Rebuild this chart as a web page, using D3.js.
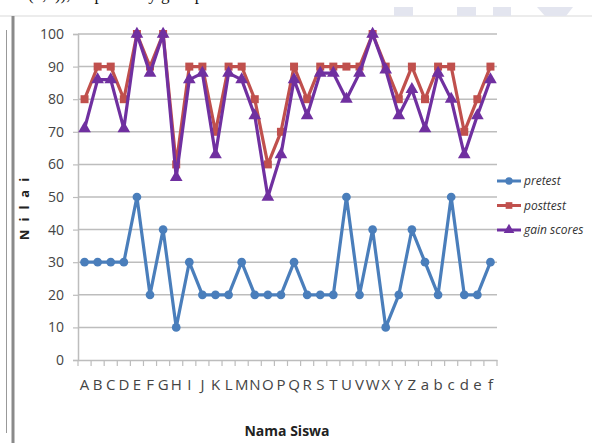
<!DOCTYPE html>
<html>
<head>
<meta charset="utf-8">
<script src="https://cdn.jsdelivr.net/npm/d3@7"></script>
<style>
  body { margin: 0; background: #fff; }
  svg { display: block; }
</style>
</head>
<body>
<div id="chart"></div>
<script>
// donnees
var siswa = ["A","B","C","D","E","F","G","H","I","J","K","L","M","N","O","P","Q","R","S","T","U","V","W","X","Y","Z","a","b","c","d","e","f"];
var pretest = [30,30,30,30,50,20,40,10,30,20,20,20,30,20,20,20,30,20,20,20,50,20,40,10,20,40,30,20,50,20,20,30];
var posttest = [80,90,90,80,100,90,100,60,90,90,70,90,90,80,60,70,90,80,90,90,90,90,100,90,80,90,80,90,90,70,80,90];
var gainScores = [71,86,86,71,100,88,100,56,86,88,63,88,86,75,50,63,86,75,88,88,80,88,100,89,75,83,71,88,80,63,75,86];
var yTicks = [0,10,20,30,40,50,60,70,80,90,100];
var seriesNames = ["pretest", "posttest", "gain scores"];

var width = 592, height = 443;
var svg = d3.select("#chart").append("svg")
  .attr("width", width)
  .attr("height", height);

var font = "'Liberation Sans Narrow', 'Open Sans', sans-serif";

// bout de texte coupe en haut + cadre de la page
svg.append("text")
  .attr("x", 28).attr("y", 0)
  .attr("font-family", "'Liberation Serif', serif")
  .attr("font-size", 17)
  .attr("fill", "#111")
  .text("(1,2)), respectively gain p");

svg.append("line")
  .attr("x1", 0).attr("x2", width).attr("y1", 16).attr("y2", 16)
  .attr("stroke", "#e6e6e6").attr("stroke-width", 1.5);

[[394, 413], [457, 476], [493, 511]].forEach(function(b) {
  svg.append("rect").attr("x", b[0]).attr("y", 7).attr("width", b[1] - b[0]).attr("height", 9).attr("fill", "#e3e5ef");
});
svg.append("path").attr("d", "M537,7L573,7L566,16L545,16Z").attr("fill", "#e3e5ef");

svg.append("line").attr("x1", 13).attr("x2", 13).attr("y1", 16).attr("y2", height)
  .attr("stroke", "#8a8a8a").attr("stroke-width", 3);
svg.append("line").attr("x1", 6.5).attr("x2", 6.5).attr("y1", 30).attr("y2", 433)
  .attr("stroke", "#999").attr("stroke-width", 1);

var margin = {left: 78, right: 497, top: 34, bottom: 360};

var x = d3.scaleBand().domain(siswa).range([margin.left, margin.right]);
var y = d3.scaleLinear().domain([0, 100]).range([margin.bottom, margin.top]);

// grille
svg.append("g").selectAll("line")
  .data(yTicks.slice(1))
  .enter().append("line")
  .attr("x1", margin.left).attr("x2", margin.right)
  .attr("y1", function(d) { return y(d); })
  .attr("y2", function(d) { return y(d); })
  .attr("stroke", "#bdbdbd").attr("stroke-width", 1.5);

// axe y
var yAxis = svg.append("g")
  .attr("transform", "translate(" + margin.left + ",0)")
  .call(d3.axisLeft(y).tickValues(yTicks).tickSize(5).tickPadding(9));
yAxis.select(".domain").attr("stroke", "#bdbdbd").attr("stroke-width", 1.5);
yAxis.selectAll(".tick line").attr("stroke", "#bdbdbd").attr("stroke-width", 1.2);
yAxis.selectAll("text")
  .attr("font-family", font).attr("font-size", 14).attr("fill", "#444");

// axe x
var xAxis = svg.append("g")
  .attr("transform", "translate(0," + margin.bottom + ")")
  .call(d3.axisBottom(x).tickSize(0).tickPadding(19));
xAxis.select(".domain").attr("stroke", "#bdbdbd").attr("stroke-width", 1.5);
xAxis.selectAll("text")
  .attr("font-family", font).attr("font-size", 15).attr("fill", "#444");
xAxis.selectAll(".xtick")
  .data(siswa.concat(["end"]))
  .enter().append("line")
  .attr("class", "xtick")
  .attr("x1", function(d, i) { return margin.left + i * x.step(); })
  .attr("x2", function(d, i) { return margin.left + i * x.step(); })
  .attr("y1", 0).attr("y2", 6)
  .attr("stroke", "#bdbdbd").attr("stroke-width", 1.2);

// titres des axes
svg.append("text")
  .attr("x", 287).attr("y", 436)
  .attr("text-anchor", "middle")
  .attr("font-family", font).attr("font-size", 14).attr("font-weight", "bold")
  .attr("fill", "#222")
  .text("Nama Siswa");

svg.append("text")
  .attr("transform", "translate(29,205)rotate(-90)")
  .attr("text-anchor", "middle")
  .attr("font-family", font).attr("font-size", 13).attr("font-weight", "bold")
  .attr("letter-spacing", "8px")
  .attr("fill", "#222")
  .text("Nilai");

var colors = ["#4a7ebb", "#c0504d", "#7030a0"];
var series = [pretest, posttest, gainScores];

var line = d3.line()
  .x(function(d, i) { return x(siswa[i]) + x.bandwidth() / 2; })
  .y(function(d) { return y(d); });

var symbols = [d3.symbolCircle, d3.symbolSquare, d3.symbolTriangle];
var symSizes = [60, 64, 70];

series.forEach(function(vals, s) {
  var g = svg.append("g");
  g.append("path")
    .datum(vals)
    .attr("fill", "none")
    .attr("stroke", colors[s])
    .attr("stroke-width", 3.2)
    .attr("stroke-linejoin", "round")
    .attr("d", line);
  g.selectAll("path.m")
    .data(vals)
    .enter().append("path")
    .attr("class", "m")
    .attr("transform", function(d, i) { return "translate(" + (x(siswa[i]) + x.bandwidth() / 2) + "," + y(d) + ")"; })
    .attr("d", d3.symbol().type(symbols[s]).size(symSizes[s]))
    .attr("fill", colors[s]);
});

// legende
var legend = svg.append("g").selectAll("g")
  .data(seriesNames)
  .enter().append("g")
  .attr("transform", function(d, i) { return "translate(497," + (181 + i * 24.5) + ")"; });

legend.append("line")
  .attr("x1", 0).attr("x2", 24)
  .attr("stroke", function(d, i) { return colors[i]; })
  .attr("stroke-width", 3);
legend.append("path")
  .attr("transform", "translate(12,0)")
  .attr("d", function(d, i) { return d3.symbol().type(symbols[i]).size(symSizes[i] * 0.7)(); })
  .attr("fill", function(d, i) { return colors[i]; });
legend.append("text")
  .attr("x", 27).attr("dy", "0.35em")
  .attr("font-family", font).attr("font-size", 12).attr("font-style", "italic")
  .attr("fill", "#333")
  .text(function(d) { return d; });
</script>
</body>
</html>
